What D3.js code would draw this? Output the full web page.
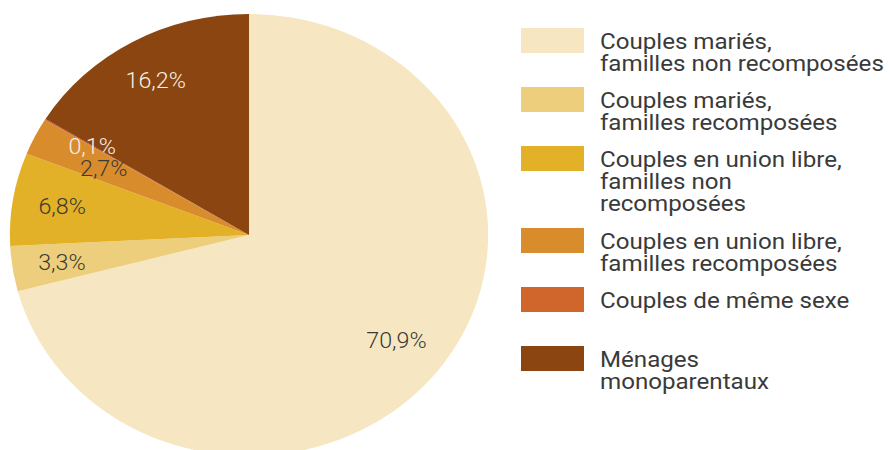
<!DOCTYPE html>
<html>
<head>
<meta charset="utf-8">
<script src="https://cdn.jsdelivr.net/npm/d3@7/dist/d3.min.js"></script>
<style>
  html, body { margin: 0; padding: 0; background: #ffffff; }
  svg { display: block; }
</style>
</head>
<body>
<svg id="chart" width="890" height="450"></svg>
<script>
// ---- data ----
const categories = [
  "Couples mariés, familles non recomposées",
  "Couples mariés, familles recomposées",
  "Couples en union libre, familles non recomposées",
  "Couples en union libre, familles recomposées",
  "Couples de même sexe",
  "Ménages monoparentaux"
];
const legendLines = [
  ["Couples mariés,", "familles non recomposées"],
  ["Couples mariés,", "familles recomposées"],
  ["Couples en union libre,", "familles non", "recomposées"],
  ["Couples en union libre,", "familles recomposées"],
  ["Couples de même sexe"],
  ["Ménages", "monoparentaux"]
];
const values = [70.9, 3.3, 6.8, 2.7, 0.1, 16.2];
const valueLabels = ["70,9%", "3,3%", "6,8%", "2,7%", "0,1%", "16,2%"];

// ---- style ----
const colors = ["#F6E6C1", "#EDCE7C", "#E2B128", "#D98C2B", "#D0662B", "#8A4510"];
const labelColors = ["#3b3a33", "#3b3a33", "#3b3a33", "#3b3a33", "#f6efe6", "#f6efe6"];
const labelRadius = [172, 175, 175, 150, 170, 177];

const sx = 1.082;           // horizontal stretch of the original picture
const cx = 249, cy = 235, R = 221;

const svg = d3.select("#chart");
const root = svg.append("g").attr("transform", `scale(${sx},1)`);

const pie = d3.pie().sort(null).value(d => d.value);
const data = values.map((v, i) => ({ value: v, i }));
const arcs = pie(data);
const arc = d3.arc().innerRadius(0).outerRadius(R);

const g = root.append("g").attr("transform", `translate(${cx / sx},${cy})`);

g.selectAll("path.slice")
  .data(arcs)
  .join("path")
  .attr("class", "slice")
  .attr("d", arc)
  .attr("fill", d => colors[d.data.i]);

g.selectAll("text.lbl")
  .data(arcs)
  .join("text")
  .attr("class", "lbl")
  .attr("transform", d => {
    const r = labelRadius[d.data.i];
    const c = d3.arc().innerRadius(r).outerRadius(r).centroid(d);
    return `translate(${c[0]},${c[1]})`;
  })
  .attr("text-anchor", "middle")
  .attr("dy", "0.36em")
  .attr("font-family", "Roboto, 'Noto Sans', sans-serif")
  .attr("font-weight", 300)
  .attr("font-size", 21.5)
  .attr("fill", d => labelColors[d.data.i])
  .text(d => valueLabels[d.data.i]);

// ---- legend ----
const lineH = 23, gap = 13, top0 = 28;
let acc = top0;
const tops = legendLines.map(lines => {
  const t = acc;
  acc += Math.max(lines.length, 2) * lineH + gap;
  return t;
});

const legend = root.append("g");
const items = legend.selectAll("g.item")
  .data(categories)
  .join("g")
  .attr("class", "item")
  .attr("transform", (d, i) => `translate(0,${tops[i]})`);

items.append("rect")
  .attr("x", 521 / sx)
  .attr("y", 0)
  .attr("width", 63 / sx)
  .attr("height", 25)
  .attr("fill", (d, i) => colors[i]);

items.append("text")
  .attr("font-family", "Roboto, 'Noto Sans', sans-serif")
  .attr("font-size", 22.3)
  .attr("fill", "#3a3a3a")
  .each(function(d, i) {
    d3.select(this).selectAll("tspan")
      .data(legendLines[i])
      .join("tspan")
      .attr("x", 600 / sx)
      .attr("y", (t, j) => 21 + j * 22)
      .text(t => t);
  });
</script>
</body>
</html>
